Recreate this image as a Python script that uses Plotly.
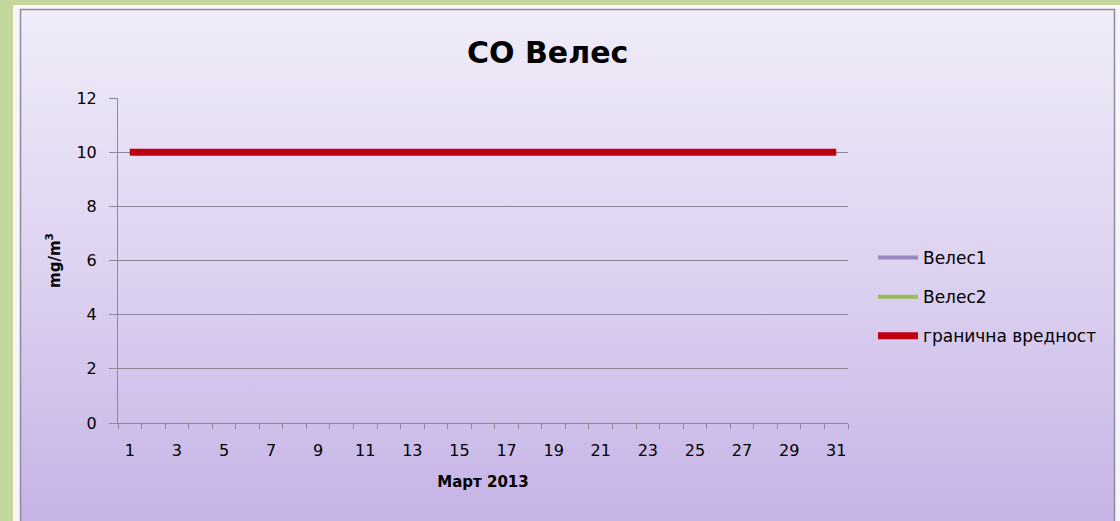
import base64
import plotly.graph_objects as go

# ---- data ----
days = list(range(1, 32))
veles1 = [None] * 31
veles2 = [None] * 31
limit_value = [10] * 31
x_tick_vals = list(range(1, 32, 2))
x_tick_text = [str(v) for v in x_tick_vals]
y_tick_vals = [0, 2, 4, 6, 8, 10, 12]

W, H = 1120, 521
FONT = "Comic Sans MS, DejaVu Sans, sans-serif"

# background panel (green frame + lavender gradient panel)
svg = f'''<svg xmlns="http://www.w3.org/2000/svg" width="{W}" height="{H}" viewBox="0 0 {W} {H}" preserveAspectRatio="none">
<defs><linearGradient id="g" x1="0" y1="0" x2="0" y2="1">
<stop offset="0" stop-color="#f0ecf9"/>
<stop offset="0.5" stop-color="#ddd2f0"/>
<stop offset="1" stop-color="#c5b2e6"/>
</linearGradient></defs>
<rect x="0" y="0" width="{W}" height="{H}" fill="#c3d69b"/>
<rect x="13" y="5" width="{W}" height="{H}" fill="#f7f5fb"/>
<rect x="20.5" y="9.5" width="1094" height="{H}" fill="url(#g)" stroke="#8e8a9c" stroke-width="1.5"/>
</svg>'''
src = "data:image/svg+xml;base64," + base64.b64encode(svg.encode()).decode()

x0, x1 = 118, 848
y_top, y_bot = 98, 423

fig = go.Figure()
fig.add_trace(go.Scatter(x=days, y=veles1, name="Велес1", mode="lines",
                         line=dict(color="#9a88bc", width=4), legendgroup="a"))
fig.add_trace(go.Scatter(x=days, y=veles2, name="Велес2", mode="lines",
                         line=dict(color="#9bbb59", width=4), legendgroup="b"))
fig.add_trace(go.Scatter(x=days, y=limit_value, name="гранична вредност", mode="lines",
                         line=dict(color="#bf0010", width=7), legendgroup="c"))

fig.update_layout(
    width=W, height=H,
    margin=dict(l=0, r=0, t=0, b=0, autoexpand=False),
    paper_bgcolor="#c3d69b",
    plot_bgcolor="rgba(0,0,0,0)",
    font=dict(family=FONT, size=16, color="#000000"),
    images=[dict(source=src, xref="paper", yref="paper", x=0, y=1, sizex=1, sizey=1,
                 xanchor="left", yanchor="top", sizing="stretch", layer="below")],
    showlegend=True,
    legend=dict(x=873 / W, y=1 - 297 / H, xanchor="left", yanchor="middle",
                bgcolor="rgba(0,0,0,0)", font=dict(size=17, family=FONT),
                tracegroupgap=14, itemwidth=40),
    xaxis=dict(domain=[x0 / W, x1 / W], range=[0.5, 31.5], tickmode="array",
               tickvals=x_tick_vals, ticktext=x_tick_text, ticks="", showgrid=False,
               zeroline=False, showline=True, linecolor="#8c8898", linewidth=1,
               ticklabelstandoff=13, tickfont=dict(size=16),
               minor=dict(tickmode="linear", tick0=0.5, dtick=1, ticks="outside",
                          ticklen=5, tickcolor="#8c8898", showgrid=False),
               title=dict(text="<b>Март 2013</b>", font=dict(size=15), standoff=17),
               fixedrange=True),
    yaxis=dict(domain=[(H - y_bot) / H, (H - y_top) / H], range=[0, 12], tickmode="array",
               tickvals=y_tick_vals, ticks="outside", ticklen=8, tickcolor="#8c8898",
               showgrid=True, gridcolor="#8c8898", gridwidth=1, zeroline=False,
               showline=True, linecolor="#8c8898", linewidth=1, ticklabelstandoff=9,
               tickfont=dict(size=16),
               title=dict(text="<b>mg/m<sup>3</sup></b>", font=dict(size=15), standoff=12),
               fixedrange=True),
    annotations=[dict(text="<b>CO Велес</b>", x=547 / W, y=1 - 52 / H, xref="paper", yref="paper",
                      xanchor="center", yanchor="middle", showarrow=False,
                      font=dict(size=30, family=FONT))],
)

fig.write_html("out.html", config={"displayModeBar": False},
               post_script="document.body.style.margin='0px';")
